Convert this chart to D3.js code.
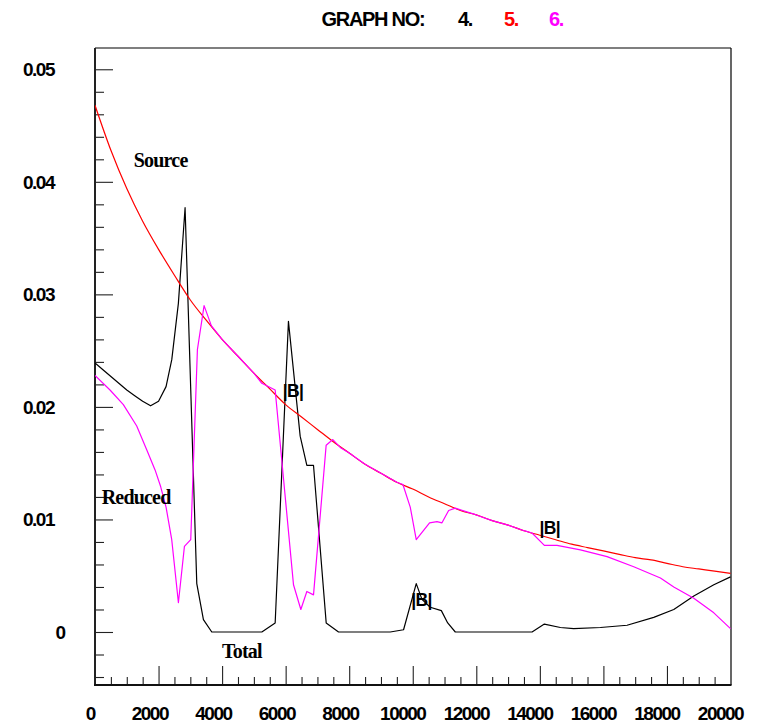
<!DOCTYPE html>
<html>
<head>
<meta charset="utf-8">
<script src="https://cdn.jsdelivr.net/npm/d3@7/dist/d3.min.js"></script>
<style>
  html, body { margin: 0; padding: 0; background: #fff; }
  svg { display: block; }
  .num { font-family: "Liberation Sans", Arial, sans-serif; font-weight: bold; }
  .lbl { font-family: "Liberation Serif", "Times New Roman", serif; font-weight: bold; }
</style>
</head>
<body>
<svg id="chart" width="758" height="727"></svg>
<script>
// Source spectrum (graph 5)
const sourceX = [0, 500, 1000, 1500, 2000, 2500, 3000, 3500, 4000, 4500, 5000, 5500, 6000, 6500,
  7000, 7500, 8000, 8500, 9000, 9500, 10000, 10500, 11000, 11500, 12000, 12500, 13000, 13500,
  14000, 14500, 15000, 15500, 16000, 16500, 17000, 17500, 18000, 18500, 19000, 19500, 20000];
const sourceY = [0.0468, 0.0428, 0.0394, 0.0365, 0.0340, 0.0317, 0.0295, 0.0277, 0.0260, 0.0245,
  0.0230, 0.0216, 0.0202, 0.0191, 0.0180, 0.0169, 0.0159, 0.0149, 0.0141, 0.0133, 0.0127, 0.0120,
  0.0114, 0.0108, 0.0104, 0.0099, 0.0095, 0.0090, 0.0086, 0.0082, 0.0078, 0.0075, 0.0072, 0.0069,
  0.0066, 0.0064, 0.0061, 0.0058, 0.0056, 0.0054, 0.0052];

// Total |B| (graph 4)
const totalX = [0, 250, 500, 750, 1000, 1250, 1500, 1750, 2000, 2236, 2416, 2624, 2835, 3203, 3412,
  3675, 5250, 5670, 6088, 6457, 6667, 6877, 7276, 7664, 9291, 9711, 10110, 10290, 10550, 10900,
  11100, 11339, 13754, 14142, 14646, 15065, 15906, 16745, 17584, 18215, 18845, 19475, 20000];
const totalY = [0.0239, 0.0233, 0.0227, 0.0221, 0.0215, 0.0210, 0.0205, 0.0201, 0.0205, 0.0218,
  0.0242, 0.0292, 0.0377, 0.0043, 0.0011, 0.0000, 0.0000, 0.0008, 0.0276, 0.0174, 0.0148, 0.0148,
  0.0008, 0.0000, 0.0000, 0.0002, 0.0043, 0.0029, 0.0022, 0.0019, 0.0008, 0.0000, 0.0000, 0.0007,
  0.0004, 0.0003, 0.0004, 0.0006, 0.0013, 0.0020, 0.0032, 0.0042, 0.0049];

// Reduced |B| (graph 6)
const reducedX = [0, 472, 892, 1313, 1627, 1890, 2068, 2236, 2415, 2625, 2814, 3013, 3223, 3433,
  3664, 4000, 4500, 5000, 5250, 5670, 6247, 6478, 6667, 6877, 7275, 7485, 7717, 8000, 8500, 9000,
  9500, 9690, 9921, 10110, 10529, 10762, 10920, 11129, 11339, 12000, 12500, 13000, 13500, 13754,
  14142, 14540, 15276, 16115, 16955, 17795, 18215, 18845, 19475, 20000];
const reducedY = [0.0228, 0.0215, 0.0202, 0.0183, 0.0162, 0.0144, 0.0129, 0.0111, 0.0082, 0.0026,
  0.0076, 0.0082, 0.0251, 0.0290, 0.0272, 0.0260, 0.0245, 0.0230, 0.0221, 0.0215, 0.0042, 0.0020,
  0.0036, 0.0033, 0.0166, 0.0171, 0.0164, 0.0159, 0.0149, 0.0141, 0.0133, 0.0131, 0.0111, 0.0082,
  0.0097, 0.0098, 0.0097, 0.0108, 0.0110, 0.0104, 0.0099, 0.0095, 0.0090, 0.0088, 0.0077, 0.0077,
  0.0073, 0.0067, 0.0058, 0.0048, 0.0040, 0.0030, 0.0017, 0.0003];

// Axis ticks and labels
const xMajorTicks = [0, 2000, 4000, 6000, 8000, 10000, 12000, 14000, 16000, 18000, 20000];
const xTickLabels = ["0", "2000", "4000", "6000", "8000", "10000", "12000", "14000", "16000", "18000", "20000"];
const yMajorTicks = [0, 0.01, 0.02, 0.03, 0.04, 0.05];
const yTickLabels = ["0", "0.01", "0.02", "0.03", "0.04", "0.05"];

// Graph numbers shown in the header
const graphNumbers = ["4.", "5.", "6."];
const graphColors = ["#000000", "#ff0000", "#ff00ff"];

// Curve annotations
const curveNotes = [
  { text: "Source", x: 1220, y: 0.0413, serif: true },
  { text: "Reduced", x: 210, y: 0.0114, serif: true },
  { text: "Total", x: 4000, y: -0.0023, serif: true },
  { text: "|B|", x: 5910, y: 0.0209, serif: false },
  { text: "|B|", x: 9950, y: 0.0023, serif: false },
  { text: "|B|", x: 13990, y: 0.0087, serif: false }
];

const svg = d3.select("#chart");
const L = 95, R = 730.5, T = 48, B = 685;

const x = d3.scaleLinear().domain([0, 20000]).range([L, R]);
const y = d3.scaleLinear().domain([-0.00471, 0.05189]).range([B, T]);

// Frame
svg.append("line").attr("x1", L).attr("x2", R + 0.5).attr("y1", T).attr("y2", T)
  .attr("stroke", "#000").attr("stroke-width", 1.2);
svg.append("line").attr("x1", R + 0.5).attr("x2", R + 0.5).attr("y1", T).attr("y2", B)
  .attr("stroke", "#000").attr("stroke-width", 1.2);

// Y axis ticks (inward)
const yMinor = d3.range(-0.004, 0.0501, 0.002).filter(v => !yMajorTicks.some(m => Math.abs(m - v) < 1e-6));
function styleAxis(g) {
  g.select(".domain").remove();
  g.selectAll(".tick line").attr("stroke", "#222").attr("stroke-width", 1.1);
  g.selectAll(".tick text").remove();
}
svg.append("g").attr("transform", `translate(${L},0)`)
  .call(d3.axisRight(y).tickValues(yMajorTicks).tickSize(18).tickFormat(""))
  .call(styleAxis);
svg.append("g").attr("transform", `translate(${L},0)`)
  .call(d3.axisRight(y).tickValues(yMinor).tickSize(9).tickFormat(""))
  .call(styleAxis);

// X axis ticks (inward)
const xMinor = d3.range(0, 20001, 500).filter(v => v % 2000 !== 0);
svg.append("g").attr("transform", `translate(0,${B})`)
  .call(d3.axisTop(x).tickValues(xMajorTicks.slice(1, -1)).tickSize(19).tickFormat(""))
  .call(styleAxis);
svg.append("g").attr("transform", `translate(0,${B})`)
  .call(d3.axisTop(x).tickValues(xMinor).tickSize(8).tickFormat(""))
  .call(styleAxis);

// Axis lines
svg.append("line").attr("x1", L).attr("x2", L).attr("y1", T).attr("y2", B + 1)
  .attr("stroke", "#222").attr("stroke-width", 2);
svg.append("line").attr("x1", L - 1).attr("x2", R + 1).attr("y1", B).attr("y2", B)
  .attr("stroke", "#111").attr("stroke-width", 2);

// Tick labels
svg.append("g").selectAll("text").data(yMajorTicks).join("text")
  .attr("class", "num")
  .attr("x", (d, i) => d === 0 ? 64.5 : 54)
  .attr("y", d => y(d) + 7)
  .attr("text-anchor", "end")
  .attr("font-size", 19).attr("letter-spacing", "-1.5px")
  .text((d, i) => yTickLabels[i]);

svg.append("g").selectAll("text").data(xMajorTicks).join("text")
  .attr("class", "num")
  .attr("x", (d, i) => x(d) - (3.5 + 1.3 * xTickLabels[i].length))
  .attr("y", 720)
  .attr("text-anchor", "middle")
  .attr("font-size", 19).attr("letter-spacing", "-1.5px")
  .text((d, i) => xTickLabels[i]);

// Header
const header = svg.append("g").attr("class", "num").attr("font-size", 20).attr("letter-spacing", "-1.3px");
header.append("text").attr("x", 321.5).attr("y", 26).text("GRAPH NO:");
const headerX = [458, 504, 549];
header.selectAll("text.gn").data(graphNumbers).join("text").attr("class", "gn")
  .attr("x", (d, i) => headerX[i]).attr("y", 26)
  .attr("fill", (d, i) => graphColors[i]).text(d => d);

// Curves
const series = [
  { xs: totalX, ys: totalY, color: graphColors[0] },
  { xs: sourceX, ys: sourceY, color: graphColors[1] },
  { xs: reducedX, ys: reducedY, color: graphColors[2] }
];
const clip = svg.append("clipPath").attr("id", "plotclip");
clip.append("rect").attr("x", L).attr("y", T).attr("width", R - L + 1).attr("height", B - T);

const plot = svg.append("g").attr("clip-path", "url(#plotclip)");
series.forEach(s => {
  const pts = s.xs.map((v, i) => [v, s.ys[i]]);
  const smooth = s.color === graphColors[1];
  const line = d3.line().x(d => x(d[0])).y(d => y(d[1]))
    .curve(smooth ? d3.curveMonotoneX : d3.curveLinear);
  plot.append("path").datum(pts).attr("d", line)
    .attr("fill", "none").attr("stroke", s.color).attr("stroke-width", 1.2)
    .attr("stroke-linejoin", "round");
});

// Annotations
svg.append("g").selectAll("text").data(curveNotes).join("text")
  .attr("class", d => d.serif ? "lbl" : "num")
  .attr("x", d => x(d.x)).attr("y", d => y(d.y))
  .attr("font-size", d => d.serif ? 20 : 17.5)
  .attr("letter-spacing", d => d.serif ? "-0.8px" : "-0.6px")
  .text(d => d.text);
</script>
</body>
</html>
